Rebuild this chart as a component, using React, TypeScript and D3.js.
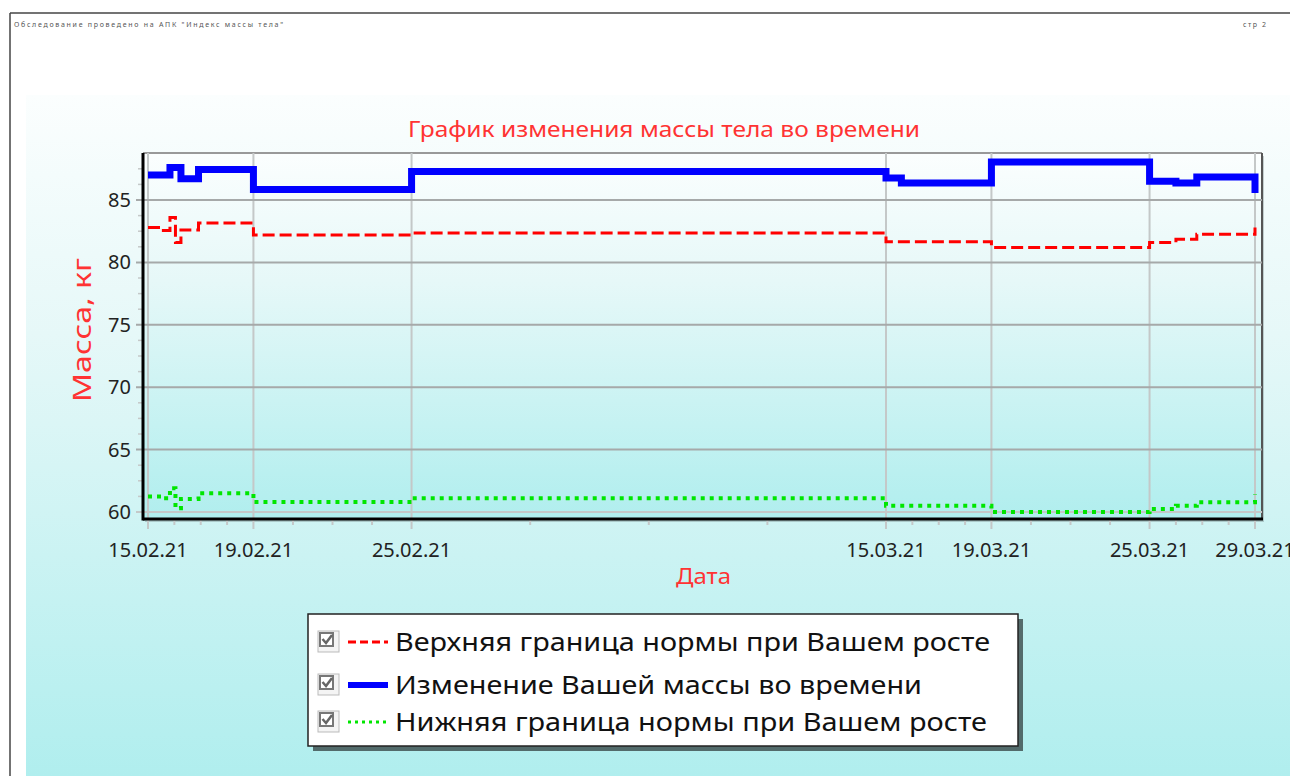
import React from "react";
import * as d3 from "d3";

const dates = [
  "2021-02-15T00:00", "2021-02-15T14:00", "2021-02-15T20:00", "2021-02-16T01:00",
  "2021-02-16T06:00", "2021-02-16T22:00", "2021-02-19T00:00", "2021-02-25T00:00",
  "2021-03-15T00:00", "2021-03-15T14:00", "2021-03-19T00:00", "2021-03-25T00:00",
  "2021-03-26T00:00", "2021-03-26T19:00", "2021-03-29T00:00",
];
const weight = [87.0, 87.0, 87.6, 87.6, 86.7, 87.45, 85.85, 87.28, 86.76, 86.36, 88.04, 86.5, 86.36, 86.84, 85.56];
const upperNorm = [82.8, 82.55, 83.6, 81.6, 82.6, 83.15, 82.2, 82.36, 81.66, 81.66, 81.2, 81.6, 81.85, 82.25, 82.8];
const lowerNorm = [61.25, 61.1, 61.9, 60.3, 61.05, 61.5, 60.8, 61.1, 60.5, 60.5, 60.0, 60.25, 60.5, 60.78, 61.4];
const xTickDates = ["2021-02-15", "2021-02-19", "2021-02-25", "2021-03-15", "2021-03-19", "2021-03-25", "2021-03-29"];
const yTicks = [60, 65, 70, 75, 80, 85];

const titleText = "График изменения массы тела во времени";
const yLabel = "Масса, кг";
const xLabel = "Дата";
const legendItems = [
  "Верхняя граница нормы при Вашем росте",
  "Изменение Вашей массы во времени",
  "Нижняя граница нормы при Вашем росте",
];
const headerText = "Обследование проведено на АПК \"Индекс массы тела\"";
const pageText = "стр 2";

const parseT = d3.timeParse("%Y-%m-%dT%H:%M");
const parseD = d3.timeParse("%Y-%m-%d");
const fmt = d3.timeFormat("%d.%m.%y");

const FONT = "'Noto Sans', 'Open Sans', sans-serif";

export default function App() {
  const W = 1290, H = 776;
  const plotL = 143, plotR = 1262, plotT = 153, plotB = 519;
  const times = dates.map((s) => parseT(s) as Date);
  const tickTimes = xTickDates.map((s) => parseD(s) as Date);

  const x = d3.scaleTime().domain([tickTimes[0], tickTimes[tickTimes.length - 1]]).range([148, 1255]);
  const y = d3.scaleLinear().domain([60, 85]).range([512, 200]);

  const line = (vals: number[]) =>
    d3.line<number>()
      .x((_, i) => x(times[i]))
      .y((v) => y(v))
      .curve(d3.curveStepAfter)(vals) as string;

  // minor ticks: 4 subdivisions of each labelled interval
  const xMinor: number[] = [];
  for (let i = 0; i < tickTimes.length - 1; i++) {
    const a = x(tickTimes[i]), b = x(tickTimes[i + 1]);
    for (let k = 1; k < 4; k++) xMinor.push(a + ((b - a) * k) / 4);
  }
  const yMinor: number[] = [];
  for (let v = 60; v <= 88.5; v += 1.25) {
    if (Math.abs(v % 5) > 0.01) yMinor.push(v);
  }

  const legX = 308, legY = 614, legW = 710, legH = 132;
  const rowY = [642, 685, 722];
  const legLen = [595, 527, 592];

  return (
    <svg width={W} height={H} style={{ position: "absolute", left: 0, top: 0 }}>
      <defs>
        <linearGradient id="bg" x1="0" y1="0" x2="0" y2="1">
          <stop offset="0" stopColor="#fbfefe" />
          <stop offset="0.35" stopColor="#e6f8f8" />
          <stop offset="1" stopColor="#b0eeee" />
        </linearGradient>
      </defs>
      <rect x={0} y={0} width={W} height={H} fill="#ffffff" />
      {/* page border */}
      <line x1={10} y1={13} x2={W} y2={13} stroke="#444" strokeWidth={1.5} />
      <line x1={10} y1={13} x2={10} y2={H} stroke="#444" strokeWidth={1.5} />
      <text x={14} y={27} fontSize={7} fontFamily={FONT} fill="#555" textLength={269} lengthAdjust="spacing">{headerText}</text>
      <text x={1243} y={27} fontSize={7} fontFamily={FONT} fill="#555" textLength={23} lengthAdjust="spacing">{pageText}</text>

      {/* chart background */}
      <rect x={26} y={95} width={W - 26} height={H - 95} fill="url(#bg)" />

      <text x={408} y={137} fontSize={21} fontFamily={FONT} fill="#ff3333" textLength={512} lengthAdjust="spacingAndGlyphs">{titleText}</text>

      {/* plot frame */}
      <rect x={plotL + 2} y={plotT + 3} width={plotR - plotL} height={plotB - plotT} fill="#6a7a7a" opacity={0.35} />
      <rect x={plotL} y={plotT} width={plotR - plotL} height={plotB - plotT} fill="url(#bg)" />
      <line x1={plotL} y1={plotT} x2={plotR} y2={plotT} stroke="#999" strokeWidth={2} />
      <line x1={plotR} y1={plotT} x2={plotR} y2={plotB} stroke="#555" strokeWidth={2} />

      {/* grid */}
      {tickTimes.map((t, i) => (
        <line key={"vg" + i} x1={x(t)} x2={x(t)} y1={plotT} y2={plotB + 10} stroke="#c4c8c8" strokeWidth={2} />
      ))}
      {yTicks.map((v, i) => (
        <line key={"hg" + i} x1={plotL - 7} x2={plotR} y1={y(v)} y2={y(v)} stroke={v === 60 ? "#c4c8c8" : "#a6a9a9"} strokeWidth={2} />
      ))}
      {xMinor.map((px, i) => (
        <line key={"xm" + i} x1={px} x2={px} y1={plotB} y2={plotB + 6} stroke="#c4c8c8" strokeWidth={2} />
      ))}
      {yMinor.map((v, i) => (
        <line key={"ym" + i} x1={plotL - 5} x2={plotL} y1={y(v)} y2={y(v)} stroke="#c4c8c8" strokeWidth={1.5} />
      ))}

      {/* series */}
      <path d={line(lowerNorm)} fill="none" stroke="#00e600" strokeWidth={4} strokeDasharray="4 5" />
      <path d={line(upperNorm)} fill="none" stroke="#ff0000" strokeWidth={3} strokeDasharray="12 5" />
      <path d={line(weight)} fill="none" stroke="#0000ff" strokeWidth={7} />

      {/* axes */}
      <line x1={plotL} y1={plotT} x2={plotL} y2={plotB + 1.5} stroke="#000" strokeWidth={3} />
      <line x1={plotL} y1={plotB} x2={plotR + 1} y2={plotB} stroke="#000" strokeWidth={3} />

      {yTicks.map((v, i) => (
        <text key={"yl" + i} x={131} y={y(v) + 7} textAnchor="end" fontSize={20} fontFamily={FONT} fill="#222">{v}</text>
      ))}
      {tickTimes.map((t, i) => (
        <text key={"xl" + i} x={x(t)} y={557} textAnchor="middle" fontSize={20} fontFamily={FONT} fill="#222">{fmt(t)}</text>
      ))}

      <text x={676} y={584} fontSize={21} fontFamily={FONT} fill="#ff3333" textLength={55} lengthAdjust="spacingAndGlyphs">{xLabel}</text>
      <text transform="translate(91,402) rotate(-90)" fontSize={25} fontFamily={FONT} fill="#ff3333" textLength={144} lengthAdjust="spacingAndGlyphs">{yLabel}</text>

      {/* legend */}
      <rect x={legX + 5} y={legY + 5} width={legW} height={legH} fill="#3a4a4a" opacity={0.8} />
      <rect x={legX} y={legY} width={legW} height={legH} fill="#ffffff" stroke="#222" strokeWidth={1.5} />
      {legendItems.map((label, i) => {
        const cy = rowY[i];
        return (
          <g key={"lg" + i}>
            <rect x={318} y={cy - 11} width={21} height={21} fill="#f4f4f4" stroke="#bbb" strokeWidth={1} />
            <rect x={320} y={cy - 9} width={13} height={13} fill="#fff" stroke="#777" strokeWidth={2} />
            <path d={`M322.5 ${cy - 3} L326 ${cy + 1} L332 ${cy - 7}`} fill="none" stroke="#666" strokeWidth={2.5} />
            {i === 0 && <line x1={348} x2={388} y1={cy} y2={cy} stroke="#ff0000" strokeWidth={3} strokeDasharray="8 4" />}
            {i === 1 && <line x1={348} x2={388} y1={cy} y2={cy} stroke="#0000ff" strokeWidth={6} />}
            {i === 2 && <line x1={348} x2={388} y1={cy} y2={cy} stroke="#00e600" strokeWidth={3} strokeDasharray="3 4" />}
            <text x={395} y={cy + 9} fontSize={25} fontFamily={FONT} fill="#111" textLength={legLen[i]} lengthAdjust="spacingAndGlyphs">{label}</text>
          </g>
        );
      })}
    </svg>
  );
}
